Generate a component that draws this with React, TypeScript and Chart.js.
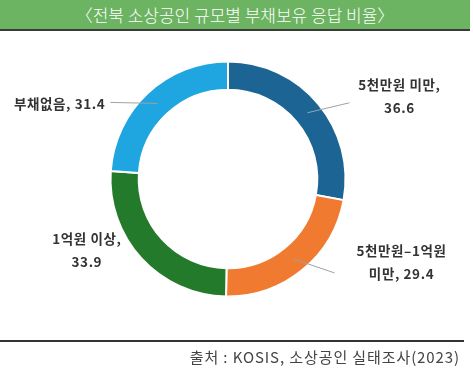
import React, { useEffect, useRef } from "react";
import { Chart, registerables } from "chart.js";

Chart.register(...registerables);

const categories = ["5천만원 미만", "5천만원–1억원 미만", "1억원 이상", "부채없음"];
const values = [36.6, 29.4, 33.9, 31.4];
const colors = ["#1b6493", "#f07a30", "#237a2b", "#1fa5df"];
// label text style: how each label is broken into lines
const labelModes = ["valueBelow", "wrapName", "valueBelow", "single"];
// label placement relative to the arc's centre point (dx, dy) and optional leader line end
const labelLayout = [
  { line: [42, -10], text: [92, -16], align: "center" },
  { line: [41, 14], text: [108, 3], align: "center" },
  { line: null, text: [-65, 1], align: "center" },
  { line: [-47, -1], text: [-52, 0], align: "right" },
];

function buildLines(i: number): string[] {
  const cat = categories[i];
  const v = values[i].toFixed(1);
  const mode = labelModes[i];
  if (mode === "single") return [`${cat}, ${v}`];
  if (mode === "wrapName") {
    const idx = cat.lastIndexOf(" ");
    return [cat.slice(0, idx), `${cat.slice(idx + 1)}, ${v}`];
  }
  return [`${cat},`, v];
}

const labelPlugin = {
  id: "calloutLabels",
  afterDatasetsDraw(chart: any) {
    const ctx = chart.ctx;
    const meta = chart.getDatasetMeta(0);
    meta.data.forEach((arc: any, i: number) => {
      const p = arc.getCenterPoint();
      const lay = labelLayout[i];
      ctx.save();
      if (lay.line) {
        ctx.strokeStyle = "#9aa3ab";
        ctx.lineWidth = 1;
        ctx.beginPath();
        ctx.moveTo(p.x, p.y);
        ctx.lineTo(p.x + lay.line[0], p.y + lay.line[1]);
        ctx.stroke();
      }
      const lines = buildLines(i);
      ctx.font = "bold 13.5px 'Noto Sans CJK KR', sans-serif";
      (ctx as any).letterSpacing = "0.6px";
      ctx.fillStyle = "#333333";
      ctx.textAlign = lay.align as CanvasTextAlign;
      ctx.textBaseline = "middle";
      const lh = 23;
      const tx = p.x + lay.text[0];
      const ty0 = p.y + lay.text[1] - ((lines.length - 1) * lh) / 2;
      lines.forEach((t, k) => ctx.fillText(t, tx, ty0 + k * lh));
      ctx.restore();
    });
  },
};

export default function App() {
  const ref = useRef<HTMLCanvasElement>(null);
  useEffect(() => {
    if (!ref.current) return;
    const chart = new Chart(ref.current, {
      type: "doughnut",
      data: {
        labels: categories,
        datasets: [
          {
            data: values,
            backgroundColor: colors,
            borderColor: "#ffffff",
            borderWidth: 2,
          },
        ],
      },
      options: {
        responsive: false,
        animation: false,
        cutout: "76%",
        layout: { padding: { top: 60.5, bottom: 77.5, left: 109.5, right: 126.5 } },
        plugins: { legend: { display: false }, tooltip: { enabled: false } },
      },
      plugins: [labelPlugin],
    });
    return () => chart.destroy();
  }, []);

  return (
    <div style={{ position: "absolute", left: 0, top: 0, width: 473, height: 375, background: "#fff", overflow: "hidden" }}>
      <canvas ref={ref} width={473} height={375} style={{ position: "absolute", left: 0, top: 0 }} />
      <div
        style={{
          position: "absolute",
          left: 0,
          top: 0,
          width: 470,
          height: 29,
          background: "#6cb362",
          borderBottom: "2px solid #3a3a3a",
          color: "#fff",
          fontFamily: "'Noto Sans CJK KR', sans-serif",
          fontSize: 17,
          fontWeight: 300,
          lineHeight: "29px",
          textAlign: "center",
        }}
      >
        〈전북 소상공인 규모별 부채보유 응답 비율〉
      </div>
      <div style={{ position: "absolute", left: 0, top: 340, width: 464, height: 2, background: "#333" }} />
      <div
        style={{
          position: "absolute",
          right: 13,
          top: 346,
          fontFamily: "'Noto Sans CJK KR', sans-serif",
          fontSize: 15,
          letterSpacing: "0.9px",
          color: "#444",
          whiteSpace: "nowrap",
        }}
      >
        출처 : KOSIS, 소상공인 실태조사(2023)
      </div>
    </div>
  );
}
